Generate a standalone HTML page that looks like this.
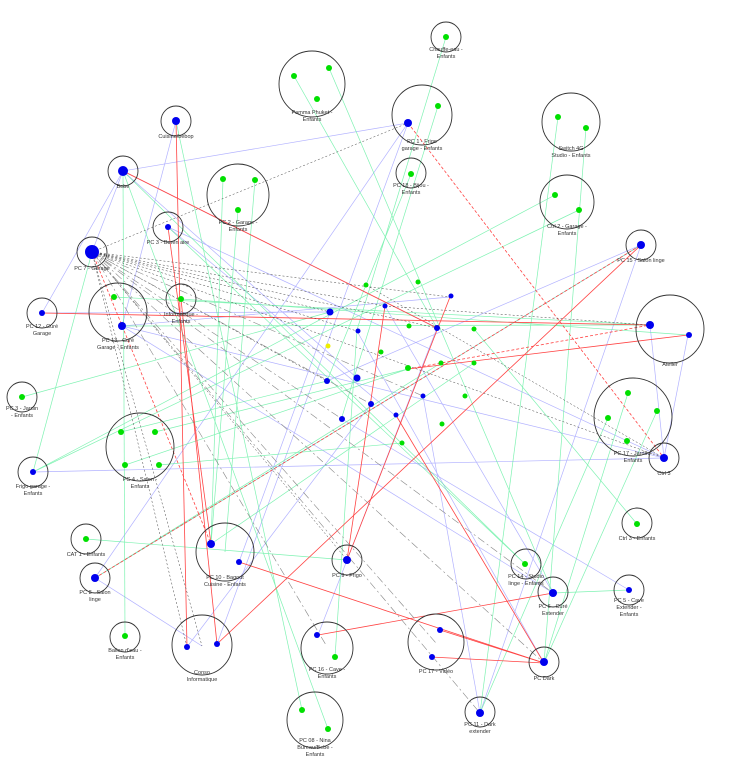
<!DOCTYPE html>
<html><head><meta charset="utf-8"><style>
html,body{margin:0;padding:0;background:#fff;}
svg{display:block;font-family:"Liberation Sans",sans-serif;}
.c{fill:none;stroke:#333;stroke-width:0.9}
.b{stroke:#99f;stroke-width:0.7;fill:none;opacity:.75}
.g{stroke:#5e9;stroke-width:0.7;fill:none;opacity:.75}
.r{stroke:#f44;stroke-width:0.8;fill:none}
.rd{stroke:#f44;stroke-width:0.8;fill:none;stroke-dasharray:3 2}
.k{stroke:#444;stroke-width:0.5;fill:none;stroke-dasharray:2 2}
.kd{stroke:#888;stroke-width:0.6;fill:none;stroke-dasharray:8 3 2 3}
text{font-size:5.5px;fill:#333;text-anchor:middle}
</style></head><body>
<svg width="735" height="758" viewBox="0 0 735 758" xmlns="http://www.w3.org/2000/svg">
<g class="b">
<line x1="123" y1="171" x2="408" y2="123"/><line x1="123" y1="171" x2="92" y2="252"/><line x1="123" y1="171" x2="42" y2="313"/>
<line x1="123" y1="171" x2="437" y2="328"/><line x1="123" y1="171" x2="357" y2="378"/><line x1="176" y1="121" x2="122" y2="326"/>
<line x1="168" y1="227" x2="664" y2="458"/><line x1="122" y1="326" x2="664" y2="458"/><line x1="122" y1="326" x2="553" y2="593"/>
<line x1="33" y1="472" x2="664" y2="458"/><line x1="95" y1="578" x2="202" y2="646"/><line x1="95" y1="578" x2="408" y2="123"/>
<line x1="95" y1="578" x2="641" y2="245"/><line x1="408" y1="123" x2="217" y2="644"/><line x1="641" y1="245" x2="327" y2="381"/>
<line x1="650" y1="325" x2="664" y2="458"/><line x1="688" y1="335" x2="664" y2="458"/><line x1="385" y1="306" x2="553" y2="593"/>
<line x1="357" y1="331" x2="544" y2="663"/><line x1="330" y1="312" x2="239" y2="562"/><line x1="437" y1="328" x2="318" y2="635"/>
<line x1="342" y1="419" x2="629" y2="590"/><line x1="480" y1="713" x2="641" y2="245"/><line x1="42" y1="313" x2="330" y2="312"/>
<line x1="122" y1="326" x2="450" y2="297"/><line x1="168" y1="227" x2="397" y2="417"/>
<line x1="423" y1="396" x2="480" y2="713"/><line x1="371" y1="404" x2="187" y2="647"/>
</g>
<g class="g">
<line x1="446" y1="37" x2="357" y2="330"/><line x1="294" y1="76" x2="437" y2="328"/><line x1="329" y1="68" x2="553" y2="593"/>
<line x1="438" y1="106" x2="341" y2="420"/><line x1="558" y1="117" x2="480" y2="713"/><line x1="586" y1="128" x2="544" y2="663"/>
<line x1="555" y1="195" x2="33" y2="472"/><line x1="579" y1="210" x2="33" y2="472"/><line x1="223" y1="179" x2="211" y2="544"/>
<line x1="255" y1="180" x2="225" y2="552"/><line x1="238" y1="210" x2="211" y2="544"/><line x1="411" y1="174" x2="327" y2="381"/>
<line x1="114" y1="297" x2="650" y2="325"/><line x1="181" y1="299" x2="688" y2="335"/><line x1="122" y1="326" x2="650" y2="325"/>
<line x1="22" y1="397" x2="330" y2="312"/><line x1="33" y1="472" x2="92" y2="252"/><line x1="121" y1="432" x2="327" y2="381"/>
<line x1="155" y1="432" x2="408" y2="369"/><line x1="125" y1="465" x2="408" y2="369"/><line x1="125" y1="636" x2="123" y2="171"/>
<line x1="86" y1="539" x2="347" y2="560"/><line x1="637" y1="524" x2="474" y2="329"/><line x1="525" y1="564" x2="123" y2="171"/>
<line x1="525" y1="564" x2="168" y2="227"/><line x1="553" y1="593" x2="629" y2="590"/><line x1="628" y1="393" x2="544" y2="663"/>
<line x1="608" y1="418" x2="480" y2="713"/><line x1="657" y1="411" x2="544" y2="663"/><line x1="302" y1="710" x2="176" y2="121"/>
<line x1="328" y1="729" x2="123" y2="171"/><line x1="335" y1="657" x2="357" y2="330"/><line x1="474" y1="363" x2="211" y2="544"/>
<line x1="641" y1="245" x2="95" y2="578"/><line x1="441" y1="363" x2="95" y2="578"/><line x1="402" y1="443" x2="159" y2="465"/>
</g>
<g class="r">
<line x1="176" y1="121" x2="187" y2="647"/><line x1="123" y1="171" x2="437" y2="328"/><line x1="42" y1="313" x2="650" y2="325"/>
<line x1="168" y1="227" x2="211" y2="544"/><line x1="181" y1="299" x2="217" y2="644"/><line x1="239" y1="562" x2="544" y2="663"/>
<line x1="318" y1="635" x2="553" y2="593"/><line x1="440" y1="630" x2="544" y2="663"/><line x1="431" y1="657" x2="544" y2="663"/>
<line x1="385" y1="306" x2="347" y2="560"/><line x1="397" y1="417" x2="544" y2="663"/><line x1="408" y1="369" x2="688" y2="335"/>
<line x1="217" y1="644" x2="641" y2="245"/><line x1="450" y1="297" x2="347" y2="560"/>
</g>
<g class="rd">
<line x1="408" y1="123" x2="664" y2="458"/><line x1="95" y1="578" x2="641" y2="245"/><line x1="408" y1="369" x2="650" y2="325"/>
<line x1="92" y1="252" x2="211" y2="544"/>
</g>
<g class="k">
<line x1="92" y1="252" x2="408" y2="123"/><line x1="92" y1="252" x2="330" y2="312"/><line x1="92" y1="252" x2="385" y2="306"/>
<line x1="92" y1="252" x2="437" y2="328"/><line x1="92" y1="252" x2="357" y2="331"/><line x1="92" y1="252" x2="450" y2="297"/>
<line x1="92" y1="252" x2="664" y2="458"/><line x1="92" y1="252" x2="327" y2="381"/><line x1="92" y1="252" x2="187" y2="647"/>
<line x1="92" y1="252" x2="202" y2="646"/><line x1="92" y1="252" x2="347" y2="560"/><line x1="385" y1="306" x2="650" y2="325"/>
<line x1="366" y1="285" x2="664" y2="458"/>
</g>
<g class="kd">
<line x1="92" y1="252" x2="544" y2="663"/><line x1="92" y1="252" x2="480" y2="713"/><line x1="92" y1="252" x2="436" y2="643"/>
<line x1="92" y1="252" x2="326" y2="645"/><line x1="92" y1="252" x2="423" y2="396"/><line x1="92" y1="252" x2="342" y2="419"/>
<line x1="92" y1="252" x2="553" y2="593"/><line x1="92" y1="252" x2="371" y2="404"/>
</g>
<g class="c">
<circle cx="446" cy="37" r="15"/><circle cx="312" cy="84" r="33"/><circle cx="176" cy="121" r="15"/><circle cx="422" cy="115" r="30"/>
<circle cx="571" cy="122" r="29"/><circle cx="123" cy="171" r="15"/><circle cx="238" cy="195" r="31"/><circle cx="411" cy="173" r="15"/>
<circle cx="567" cy="202" r="27"/><circle cx="168" cy="227" r="15"/><circle cx="641" cy="245" r="15"/><circle cx="92" cy="252" r="15"/>
<circle cx="181" cy="299" r="15"/><circle cx="42" cy="313" r="15"/><circle cx="118" cy="312" r="29"/><circle cx="670" cy="329" r="34"/>
<circle cx="22" cy="397" r="15"/><circle cx="633" cy="417" r="39"/><circle cx="140" cy="447" r="34"/><circle cx="664" cy="458" r="15"/>
<circle cx="33" cy="472" r="15"/><circle cx="86" cy="539" r="15"/><circle cx="637" cy="523" r="15"/><circle cx="225" cy="552" r="29"/>
<circle cx="347" cy="560" r="15"/><circle cx="95" cy="578" r="15"/><circle cx="526" cy="564" r="15"/><circle cx="553" cy="592" r="15"/>
<circle cx="629" cy="590" r="15"/><circle cx="125" cy="637" r="15"/><circle cx="202" cy="645" r="30"/><circle cx="327" cy="648" r="26"/>
<circle cx="436" cy="642" r="28"/><circle cx="544" cy="662" r="15"/><circle cx="480" cy="712" r="15"/><circle cx="315" cy="720" r="28"/>
</g>
<g fill="#00e000">
<circle cx="446" cy="37" r="3"/><circle cx="294" cy="76" r="3"/><circle cx="329" cy="68" r="3"/><circle cx="317" cy="99" r="3"/>
<circle cx="438" cy="106" r="3"/><circle cx="558" cy="117" r="3"/><circle cx="586" cy="128" r="3"/><circle cx="223" cy="179" r="3"/>
<circle cx="255" cy="180" r="3"/><circle cx="238" cy="210" r="3"/><circle cx="411" cy="174" r="3"/><circle cx="555" cy="195" r="3"/>
<circle cx="579" cy="210" r="3"/><circle cx="181" cy="299" r="3"/><circle cx="114" cy="297" r="3"/><circle cx="22" cy="397" r="3"/>
<circle cx="628" cy="393" r="3"/><circle cx="608" cy="418" r="3"/><circle cx="657" cy="411" r="3"/><circle cx="627" cy="441" r="3"/>
<circle cx="121" cy="432" r="3"/><circle cx="155" cy="432" r="3"/><circle cx="125" cy="465" r="3"/><circle cx="159" cy="465" r="3"/>
<circle cx="86" cy="539" r="3"/><circle cx="637" cy="524" r="3"/><circle cx="525" cy="564" r="3"/><circle cx="125" cy="636" r="3"/>
<circle cx="335" cy="657" r="3"/><circle cx="302" cy="710" r="3"/><circle cx="328" cy="729" r="3"/>
<circle cx="366" cy="285" r="2.5"/><circle cx="418" cy="282" r="2.5"/><circle cx="409" cy="326" r="2.5"/><circle cx="474" cy="329" r="2.5"/>
<circle cx="381" cy="352" r="2.5"/><circle cx="408" cy="368" r="3"/><circle cx="441" cy="363" r="2.5"/><circle cx="474" cy="363" r="2.5"/>
<circle cx="465" cy="396" r="2.5"/><circle cx="442" cy="424" r="2.5"/><circle cx="402" cy="443" r="2.5"/>
</g>
<g fill="#0000ee">
<circle cx="176" cy="121" r="4"/><circle cx="408" cy="123" r="4"/><circle cx="123" cy="171" r="5"/><circle cx="168" cy="227" r="3"/>
<circle cx="641" cy="245" r="4"/><circle cx="92" cy="252" r="7"/><circle cx="42" cy="313" r="3"/><circle cx="122" cy="326" r="4"/>
<circle cx="650" cy="325" r="4"/><circle cx="689" cy="335" r="3"/><circle cx="664" cy="458" r="4"/><circle cx="33" cy="472" r="3"/>
<circle cx="211" cy="544" r="4"/><circle cx="239" cy="562" r="3"/><circle cx="347" cy="560" r="4"/><circle cx="95" cy="578" r="4"/>
<circle cx="553" cy="593" r="4"/><circle cx="629" cy="590" r="3"/><circle cx="187" cy="647" r="3"/><circle cx="217" cy="644" r="3"/>
<circle cx="317" cy="635" r="3"/><circle cx="440" cy="630" r="3"/><circle cx="432" cy="657" r="3"/><circle cx="544" cy="662" r="4"/>
<circle cx="480" cy="713" r="4"/>
<circle cx="451" cy="296" r="2.5"/><circle cx="385" cy="306" r="2.5"/><circle cx="330" cy="312" r="3.5"/><circle cx="437" cy="328" r="3"/>
<circle cx="358" cy="331" r="2.5"/><circle cx="327" cy="381" r="3"/><circle cx="357" cy="378" r="3.5"/><circle cx="423" cy="396" r="2.5"/>
<circle cx="371" cy="404" r="3"/><circle cx="342" cy="419" r="3"/><circle cx="396" cy="415" r="2.5"/>
</g>
<circle cx="328" cy="346" r="2.5" fill="#ee0"/>
<text x="446" y="51">Chauffe-eau -</text><text x="446" y="58">Enfants</text>
<text x="312" y="114">Pamma Phuket -</text><text x="312" y="121">Enfants</text>
<text x="176" y="138">Cuisine/bebop</text>
<text x="422" y="143">PC 1 - Frigo</text><text x="422" y="150">garage - Enfants</text>
<text x="571" y="150">Switch 4G</text><text x="571" y="157">Studio - Enfants</text>
<text x="123" y="188">Bebe</text>
<text x="238" y="224">PC 2 - Garage -</text><text x="238" y="231">Enfants</text>
<text x="411" y="187">PC 18 - Bijou -</text><text x="411" y="194">Enfants</text>
<text x="567" y="228">Ctrl 2 - Garage -</text><text x="567" y="235">Enfants</text>
<text x="168" y="244">PC 3 - Buren aire</text>
<text x="641" y="262">PC 15 - Salon linge</text>
<text x="92" y="270">PC 7 - Garage</text>
<text x="181" y="316">Informatique -</text><text x="181" y="323">Enfants</text>
<text x="42" y="328">PC 12 - Curé</text><text x="42" y="335">Garage</text>
<text x="118" y="342">PC 13 - Curé</text><text x="118" y="349">Garage - Enfants</text>
<text x="670" y="366">Atelier</text>
<text x="22" y="410">PC 3 - Jardin</text><text x="22" y="417">- Enfants</text>
<text x="633" y="455">PC 17 - Jardin -</text><text x="633" y="462">Enfants</text>
<text x="140" y="481">PC 4 - Salon -</text><text x="140" y="488">Enfants</text>
<text x="664" y="475">Ctrl 3</text>
<text x="33" y="488">Frigo garage -</text><text x="33" y="495">Enfants</text>
<text x="86" y="556">CAT 1 - Enfants</text>
<text x="637" y="540">Ctrl 3 - Enfants</text>
<text x="225" y="579">PC 10 - Bagout</text><text x="225" y="586">Cuisine - Enfants</text>
<text x="347" y="577">PC 9 - Frigo</text>
<text x="95" y="594">PC 8 - Salon</text><text x="95" y="601">linge</text>
<text x="526" y="578">PC 14 - Studio</text><text x="526" y="585">linge - Enfants</text>
<text x="553" y="608">PC 6 - Curé</text><text x="553" y="615">Extender</text>
<text x="629" y="602">PC 5 - Cave</text><text x="629" y="609">Extender -</text><text x="629" y="616">Enfants</text>
<text x="125" y="652">Ballon d'eau -</text><text x="125" y="659">Enfants</text>
<text x="202" y="674">Conso</text><text x="202" y="681">Informatique</text>
<text x="327" y="671">PC 16 - Cave -</text><text x="327" y="678">Enfants</text>
<text x="436" y="673">PC 17 - Vidéo</text>
<text x="544" y="680">PC Dark</text>
<text x="480" y="726">PC 11 - Dark</text><text x="480" y="733">extender</text>
<text x="315" y="742">PC 08 - Nina</text><text x="315" y="749">Bureau/Bebe -</text><text x="315" y="756">Enfants</text>
</svg>
</body></html>
